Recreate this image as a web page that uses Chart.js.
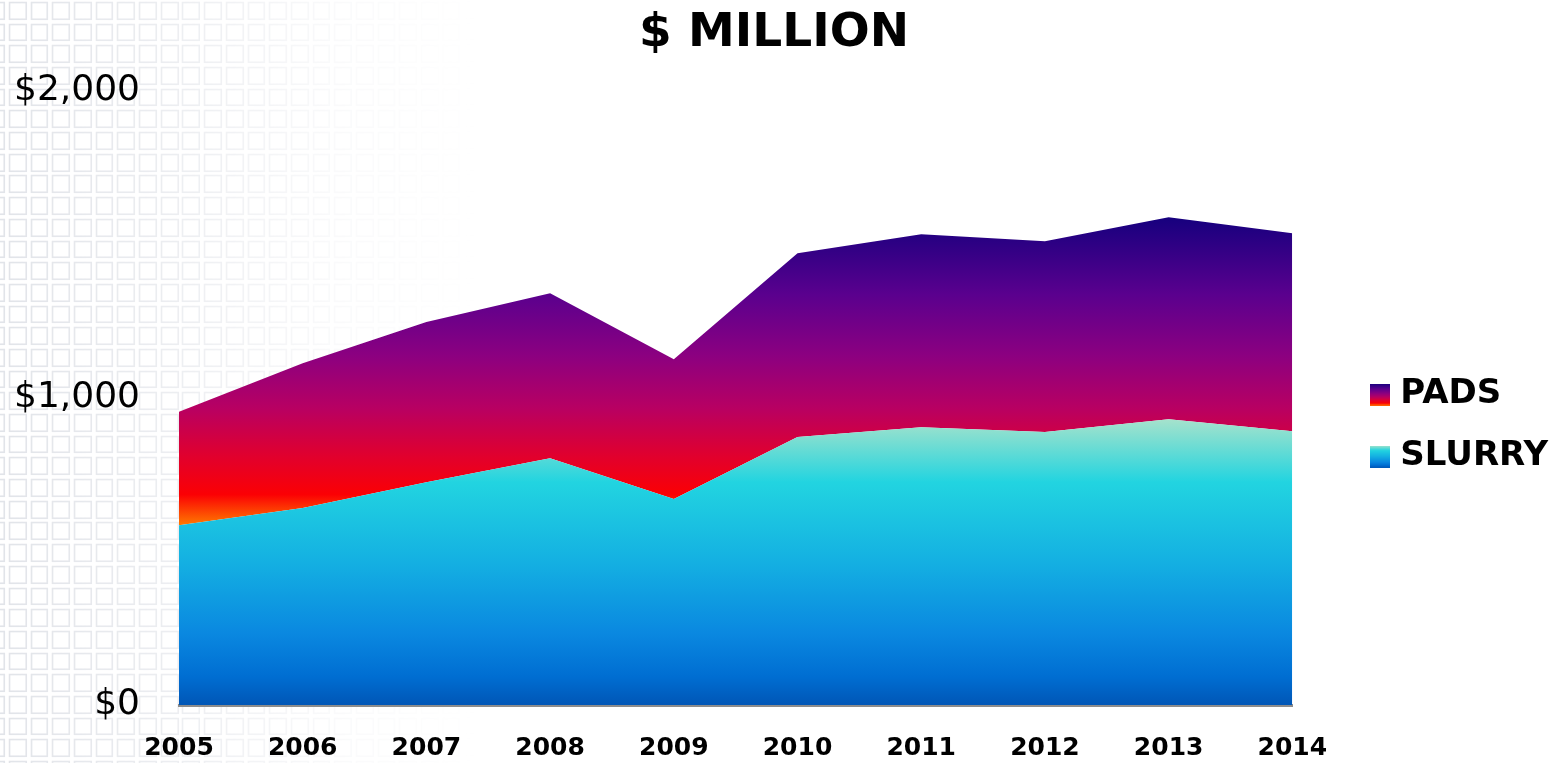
<!DOCTYPE html>
<html>
<head>
<meta charset="utf-8">
<title>$ MILLION</title>
<script src="https://cdn.jsdelivr.net/npm/chart.js@4.4.1/dist/chart.umd.min.js"></script>
<style>
    html, body {
        margin: 0;
        padding: 0;
        background: #ffffff;
        overflow: hidden;
    }
    #wrap {
        position: relative;
        width: 1554px;
        height: 763px;
    }
    /* faint tiled backdrop on the left side */
    #tiles {
        position: absolute;
        left: 0;
        top: 0;
        width: 560px;
        height: 763px;
        background-image: url("data:image/svg+xml,%3Csvg xmlns='http://www.w3.org/2000/svg' width='21.7' height='21.7'%3E%3Crect x='2.5' y='2.5' width='16.5' height='16.5' fill='none' stroke='%23dcdfe5' stroke-width='1.6'/%3E%3C/svg%3E");
        background-size: 21.7px 21.7px;
        background-position: 7px 0px;
        -webkit-mask-image: linear-gradient(to right, rgba(0,0,0,0.85) 0%, rgba(0,0,0,0.55) 30%, rgba(0,0,0,0.15) 60%, transparent 85%);
        mask-image: linear-gradient(to right, rgba(0,0,0,0.85) 0%, rgba(0,0,0,0.55) 30%, rgba(0,0,0,0.15) 60%, transparent 85%);
    }
    #chart {
        position: absolute;
        left: 0;
        top: 0;
    }
</style>
</head>
<body>
<div id="wrap">
    <div id="tiles"></div>
    <canvas id="chart" width="1554" height="763"></canvas>
</div>
<script>
// yearly revenue, $ million
const years = ['2005', '2006', '2007', '2008', '2009', '2010', '2011', '2012', '2013', '2014'];
const slurry = [585, 641, 725, 803, 670, 872, 904, 888, 930, 891];
const pads = [369, 471, 521, 537, 455, 598, 628, 621, 657, 644];
const yTicks = [0, 1000, 2000];

const padsStops = [
    [0.00, '#16007e'],
    [0.25, '#5a008e'],
    [0.45, '#8c0080'],
    [0.62, '#b80062'],
    [0.78, '#e2002c'],
    [0.90, '#fb0004'],
    [1.00, '#ff7a00']
];
const slurryStops = [
    [0.00, '#a6e2cc'],
    [0.10, '#6adcd4'],
    [0.22, '#22d4e0'],
    [0.50, '#14b0e2'],
    [0.75, '#0a88e0'],
    [0.90, '#006ed2'],
    [1.00, '#0056b6']
];

function fillGradient(ctx, y0, y1, stops) {
    const g = ctx.createLinearGradient(0, y0, 0, y1);
    stops.forEach(s => g.addColorStop(s[0], s[1]));
    return g;
}

// gradient spans from the dataset's highest value down to its lowest base
function areaFill(stops, topValues, bottomValue) {
    return function (context) {
        const chart = context.chart;
        if (!chart.chartArea) return stops[0][1];
        const y = chart.scales.y;
        const top = y.getPixelForValue(Math.max(...topValues));
        const bottom = y.getPixelForValue(bottomValue);
        return fillGradient(chart.ctx, top, bottom, stops);
    };
}

function legendSwatch(stops) {
    const c = document.createElement('canvas');
    c.width = 20;
    c.height = 22;
    const cx = c.getContext('2d');
    cx.fillStyle = fillGradient(cx, 0, 22, stops);
    cx.fillRect(0, 0, 20, 22);
    return c;
}

const totals = slurry.map((v, i) => v + pads[i]);
const swatches = { PADS: legendSwatch(padsStops), SLURRY: legendSwatch(slurryStops) };
const legendGap = 57;
const legendDrop = 44;
const titleShift = 16;

// nudge the legend away from the plot, and the title over the plot
const boxShift = {
    id: 'boxShift',
    afterLayout(chart) {
        const lg = chart.legend;
        if (lg) {
            lg.left += legendGap;
            lg.right += legendGap;
            lg.top += legendDrop;
            lg.bottom += legendDrop;
        }
        const tt = chart.titleBlock;
        if (tt) {
            tt.left += titleShift;
            tt.right += titleShift;
        }
    }
};

new Chart(document.getElementById('chart'), {
    type: 'line',
    data: {
        labels: years,
        datasets: [{
            label: 'SLURRY',
            data: slurry,
            fill: 'origin',
            borderWidth: 0,
            pointRadius: 0,
            tension: 0,
            backgroundColor: areaFill(slurryStops, slurry, 0)
        }, {
            label: 'PADS',
            data: pads,
            fill: '-1',
            borderWidth: 0,
            pointRadius: 0,
            tension: 0,
            backgroundColor: areaFill(padsStops, totals, Math.min(...slurry))
        }]
    },
    options: {
        responsive: false,
        animation: false,
        layout: { padding: { left: 15, right: 53, top: 0, bottom: 0 } },
        plugins: {
            title: {
                display: true,
                text: '$ MILLION',
                color: '#000',
                font: { family: 'DejaVu Sans', size: 47, weight: 'bold' },
                padding: { top: 6, bottom: 28 }
            },
            legend: {
                position: 'right',
                reverse: true,
                labels: {
                    color: '#000',
                    font: { family: 'DejaVu Sans', size: 34, weight: 'bold' },
                    usePointStyle: true,
                    pointStyleWidth: 6,
                    padding: 28,
                    generateLabels(chart) {
                        const items = Chart.defaults.plugins.legend.labels.generateLabels(chart);
                        items.forEach(it => { it.pointStyle = swatches[it.text]; });
                        return items;
                    }
                }
            },
            tooltip: { enabled: false }
        },
        scales: {
            x: {
                offset: false,
                grid: { display: false, drawTicks: false },
                border: { display: true, color: '#8c8c8c', width: 3 },
                afterFit(scale) { scale.height = 58; },
                ticks: {
                    color: '#000',
                    padding: 28,
                    maxRotation: 0,
                    font: { family: 'DejaVu Sans', size: 25, weight: 'bold' }
                }
            },
            y: {
                stacked: true,
                min: 0,
                max: 2000,
                grid: { display: false, drawTicks: false },
                border: { display: false },
                afterFit(scale) { scale.width = 164; },
                afterBuildTicks(scale) { scale.ticks = yTicks.map(v => ({ value: v })); },
                ticks: {
                    color: '#000',
                    padding: 39,
                    font: { family: 'DejaVu Sans', size: 36, lineHeight: 0.8 },
                    callback: (v) => '$' + v.toLocaleString('en-US')
                }
            }
        }
    },
    plugins: [boxShift]
});
</script>
</body>
</html>
